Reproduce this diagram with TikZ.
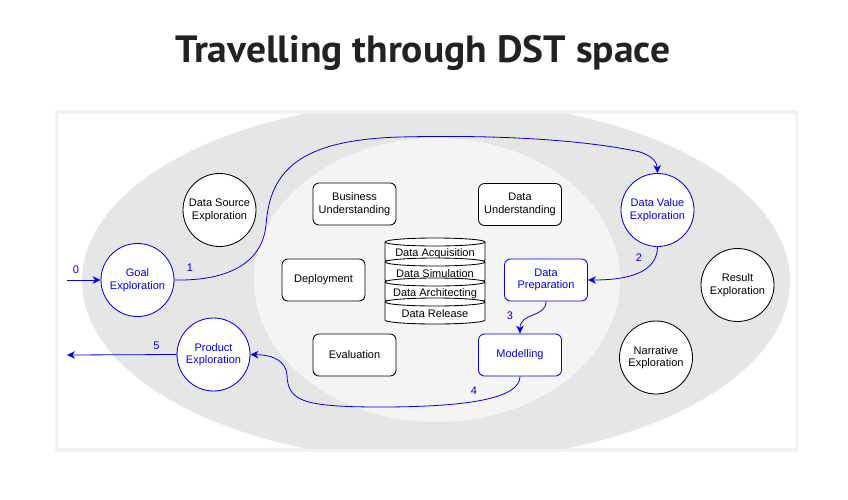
\documentclass[tikz,border=0pt]{standalone}
\usepackage{fontspec}
\setmainfont{Liberation Sans}
\newfontfamily\titlefont{PT Sans}
\usetikzlibrary{arrows.meta}
\definecolor{dstblue}{RGB}{0,0,235}
\definecolor{outergrey}{HTML}{E6E6E6}
\definecolor{innergrey}{HTML}{F4F4F4}
\definecolor{titlecol}{HTML}{222222}
\definecolor{shadowcol}{HTML}{F2F2F2}
\begin{document}
\begin{tikzpicture}[x=1pt,y=-1pt,
  every node/.style={font=\fontsize{11}{12.6}\selectfont, align=center, inner sep=0pt},
  explore/.style={circle, draw=black, fill=white, minimum size=73pt, line width=0.85pt},
  blueexplore/.style={explore, draw=dstblue, text=dstblue},
  phase/.style={rounded corners=6pt, draw=black, fill=white, minimum width=83pt, minimum height=42pt, line width=0.85pt},
  bluephase/.style={phase, draw=dstblue, text=dstblue},
  flow/.style={draw=dstblue, line width=0.8pt, -{Stealth[length=8pt,width=7.5pt,inset=2.5pt]}},
  flowlabel/.style={text=dstblue},
  cyl/.style={draw=black, fill=white, line width=0.85pt},
]
\useasboundingbox (0,0) rectangle (848,499);
\fill[white] (0,0) rectangle (848,499);

% title
\node[font=\titlefont\bfseries\fontsize{38}{42}\selectfont, text=titlecol, anchor=base, xscale=1.04] (title) at (423,62) {Travelling through DST space};

% panel
\fill[shadowcol] (55,110) rectangle (798,452);
\fill[white] (58,114) rectangle (795,448);

\begin{scope}
  \clip (58,114) rectangle (795,448);
  \fill[outergrey] (436,281) ellipse [x radius=354pt, y radius=180pt];
  \fill[innergrey] (437,280) ellipse [x radius=183pt, y radius=142pt];
\end{scope}

% exploration circles
\node[blueexplore] (goal) at (137.5,280) {Goal\\Exploration};
\node[explore] (dse) at (219.5,210) {Data Source\\Exploration};
\node[blueexplore] (dve) at (657.5,210) {Data Value\\Exploration};
\node[explore] (res) at (737.5,285) {Result\\Exploration};
\node[explore] (nar) at (656,357.5) {Narrative\\Exploration};
\node[blueexplore] (pe) at (213.5,354.5) {Product\\Exploration};

% phases
\node[phase] (bu) at (354.5,204) {Business\\Understanding};
\node[phase] (du) at (520,204.5) {Data\\Understanding};
\node[phase] (dep) at (323.5,280) {Deployment};
\node[bluephase] (dp) at (546,280) {Data\\Preparation};
\node[phase] (eval) at (354.5,355) {Evaluation};
\node[bluephase] (mod) at (520,355) {Modelling};

% data stack (cylinders)
\foreach \y in {238,258,278,298}{
  \filldraw[cyl] (385,\y+4) -- (385,\y+22) arc[start angle=180,end angle=360,x radius=50pt,y radius=4pt]
    -- (485,\y+4) arc[start angle=0,end angle=180,x radius=50pt,y radius=4pt] -- cycle;
  \draw[cyl, fill=none] (385,\y+4) arc[start angle=180,end angle=360,x radius=50pt,y radius=4pt];
}
\node (acq) at (435,253.5) {Data Acquisition};
\node (sim) at (435,273.5) {Data Simulation};
\node (arch) at (435,293.5) {Data Architecting};
\node (rel) at (435,313.5) {Data Release};

% connectors
\coordinate (in0) at (67,280);
\coordinate (out5) at (67,355);
\draw[flow] (in0) -- (goal);
\draw[flow] (goal.east) .. controls (225,281) and (262,265) .. (266,225)
  .. controls (270,170) and (300,140) .. (400,137)
  .. controls (520,134) and (600,143) .. (640,152)
  .. controls (652,156) and (657,162) .. (dve.north);
\draw[flow] (dve.south) .. controls (657,272) and (630,280) .. (dp.east);
\draw[flow] (dp.south) .. controls (546,318) and (520,312) .. (mod.north);
\draw[flow] (mod.south) .. controls (520,398) and (470,407) .. (380,407)
  .. controls (300,407) and (288,400) .. (287,375)
  .. controls (286,362) and (275,355) .. (pe.east);
\draw[flow] (pe.west) -- (out5);

% labels
\node[flowlabel] (l0) at (76,269.5) {0};
\node[flowlabel] (l1) at (190,268) {1};
\node[flowlabel] (l2) at (639,258) {2};
\node[flowlabel] (l3) at (510,316) {3};
\node[flowlabel] (l4) at (474,390.5) {4};
\node[flowlabel] (l5) at (156.5,345.5) {5};
\end{tikzpicture}
\end{document}
